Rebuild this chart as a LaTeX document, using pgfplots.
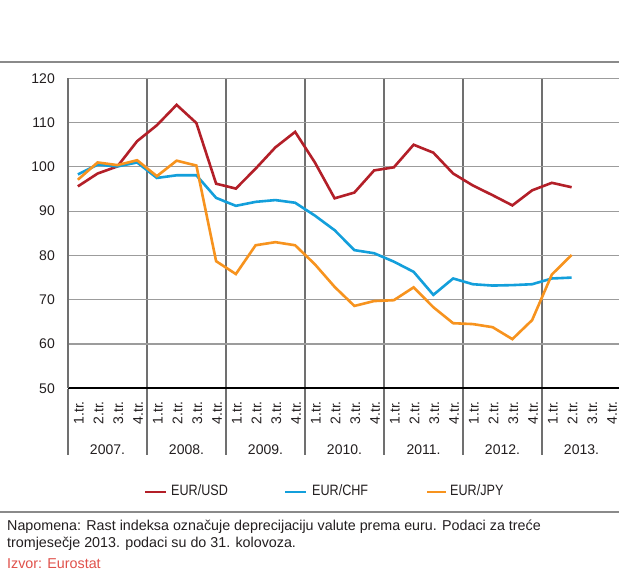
\documentclass[border=0pt]{standalone}
\usepackage{pgfplots}
\pgfplotsset{compat=1.18}
\usepackage{fontspec}
\setmainfont{Liberation Sans}
\newfontfamily\condensed[FakeStretch=0.84]{Liberation Sans}
\definecolor{usd}{HTML}{B31F28}
\definecolor{chf}{HTML}{139FDB}
\definecolor{jpy}{HTML}{F7931E}
\definecolor{gridgray}{HTML}{9C9C9C}
\definecolor{vgray}{HTML}{707070}
\definecolor{rulegray}{HTML}{8A8A8A}
\definecolor{izvor}{HTML}{E0514B}
\definecolor{txt}{HTML}{231F20}
\begin{document}
\begin{tikzpicture}[x=1pt,y=1pt]
\useasboundingbox (0,0) rectangle (619,-578);
\fill[white] (0,0) rectangle (619,-578);
% top rule
\draw[rulegray, line width=1.3pt] (0,-62) -- (619,-62);
\begin{axis}[
  at={(68pt,-388.3pt)}, anchor=south west,
  scale only axis, width=553pt, height=310pt,
  xmin=0, xmax=28, ymin=50, ymax=120,
  ytick={50,60,...,120},
  xtick={4,8,...,24},
  xticklabels={},
  xmajorgrids, ymajorgrids,
  x grid style={vgray, line width=1.2pt},
  y grid style={gridgray, line width=1.2pt},
  axis y line*=left, axis x line*=bottom,
  x axis line style={black, line width=2pt, -},
  y axis line style={vgray, line width=1.2pt, -},
  tick style={draw=none},
  /pgf/number format/assume math mode=true,
  ticklabel style={font=\fontsize{14}{16}\selectfont, text=txt},
  yticklabel style={inner sep=0pt, xshift=-13pt},
  clip=false,
]
\addplot[usd, line width=2.6pt] coordinates {
(0.5,95.6) (1.5,98.5) (2.5,100.1) (3.5,105.8) (4.5,109.4) (5.5,114.0) (6.5,109.9) (7.5,96.2)
(8.5,95.1) (9.5,99.6) (10.5,104.4) (11.5,107.9) (12.5,101.0) (13.5,92.9) (14.5,94.2) (15.5,99.2)
(16.5,99.9) (17.5,105.0) (18.5,103.2) (19.5,98.5) (20.5,95.8) (21.5,93.6) (22.5,91.3) (23.5,94.7)
(24.5,96.4) (25.5,95.4)};
\addplot[chf, line width=2.6pt] coordinates {
(0.5,98.3) (1.5,100.5) (2.5,100.1) (3.5,101.0) (4.5,97.5) (5.5,98.1) (6.5,98.1) (7.5,93.0)
(8.5,91.2) (9.5,92.1) (10.5,92.5) (11.5,91.9) (12.5,89.0) (13.5,85.7) (14.5,81.2) (15.5,80.5)
(16.5,78.6) (17.5,76.3) (18.5,71.1) (19.5,74.8) (20.5,73.5) (21.5,73.2) (22.5,73.3) (23.5,73.5)
(24.5,74.8) (25.5,75.0)};
\addplot[jpy, line width=2.6pt] coordinates {
(0.5,97.1) (1.5,101.0) (2.5,100.4) (3.5,101.5) (4.5,97.9) (5.5,101.4) (6.5,100.3) (7.5,78.7)
(8.5,75.8) (9.5,82.3) (10.5,83.0) (11.5,82.3) (12.5,78.0) (13.5,72.9) (14.5,68.6) (15.5,69.7)
(16.5,69.9) (17.5,72.8) (18.5,68.3) (19.5,64.7) (20.5,64.5) (21.5,63.8) (22.5,61.1) (23.5,65.4)
(24.5,75.7) (25.5,80.1)};
\end{axis}
% year separators below axis
\foreach \k in {0,...,7} {
  \draw[vgray, line width=1.2pt] ({68+79*\k},-389) -- ({68+79*\k},-455);
}
% quarter labels
\foreach \i in {0,...,27} {
  \pgfmathtruncatemacro{\q}{mod(\i,4)+1}
  \node[rotate=90, anchor=east, inner sep=0pt, text=txt, font=\fontsize{14}{16}\selectfont]
    at ({68+19.75*(\i+0.5)+1},-401) {\q.tr.};
}
% year labels
\foreach \y [count=\c from 0] in {2007,2008,2009,2010,2011,2012,2013} {
  \node[text=txt, font=\fontsize{14}{16}\selectfont, inner sep=0pt] at ({68+79*(\c+0.5)},-450) {\y.};
}
% legend
\draw[usd, line width=2.6pt] (145,-492) -- (166,-492);
\node[anchor=west, inner sep=0pt, text=txt, font=\condensed\fontsize{15}{17}\selectfont] at (171,-490) {EUR/USD};
\draw[chf, line width=2.6pt] (285,-492) -- (306,-492);
\node[anchor=west, inner sep=0pt, text=txt, font=\condensed\fontsize{15}{17}\selectfont] at (312,-490) {EUR/CHF};
\draw[jpy, line width=2.6pt] (427,-492) -- (446,-492);
\node[anchor=west, inner sep=0pt, text=txt, font=\condensed\fontsize{15}{17}\selectfont] at (450,-490) {EUR/JPY};
% bottom rule
\draw[rulegray, line width=1.3pt] (0,-512) -- (619,-512);
% notes
\node[anchor=base west, inner sep=0pt, text=txt, font=\fontsize{14.3}{17}\selectfont] at (7,-530) {Napomena: Rast indeksa označuje deprecijaciju valute prema euru. Podaci za treće};
\node[anchor=base west, inner sep=0pt, text=txt, font=\fontsize{14.3}{17}\selectfont] at (7,-547) {tromjesečje 2013. podaci su do 31. kolovoza.};
\node[anchor=base west, inner sep=0pt, text=izvor, font=\fontsize{14.3}{17}\selectfont] at (7,-568) {Izvor: Eurostat};
\end{tikzpicture}
\end{document}
